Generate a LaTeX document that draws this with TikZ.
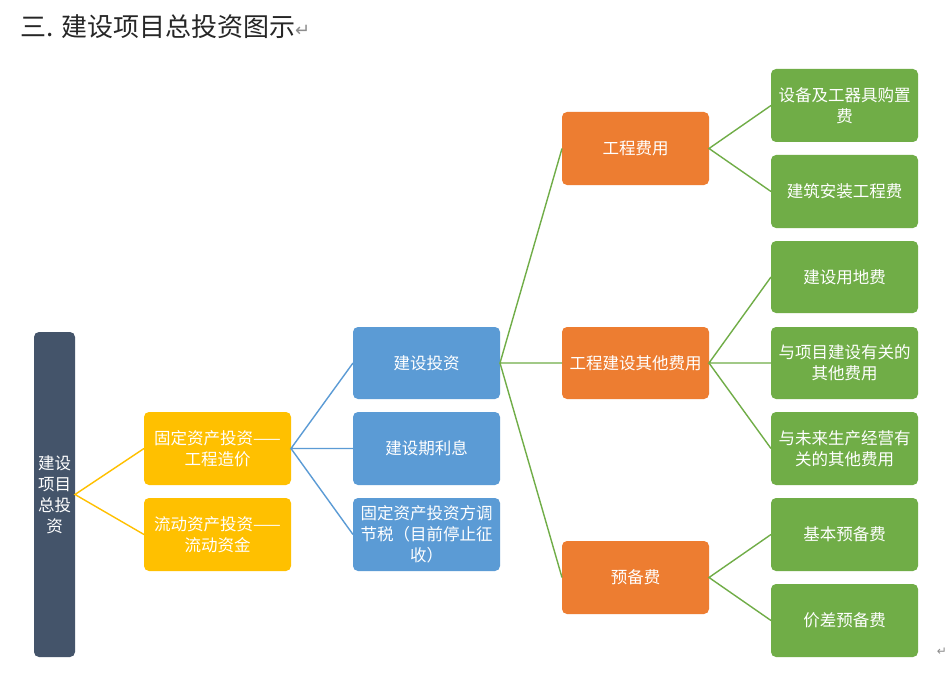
\documentclass[tikz,border=0pt]{standalone}
\usepackage{fontspec}
\setmainfont{Noto Sans CJK SC}
\newfontfamily\symfont{DejaVu Sans}
\definecolor{cRoot}{HTML}{44546A}
\definecolor{cYel}{HTML}{FFC000}
\definecolor{cBlue}{HTML}{5B9BD5}
\definecolor{cOra}{HTML}{ED7D31}
\definecolor{cGre}{HTML}{70AD47}
\definecolor{cMark}{HTML}{8C8C8C}
\begin{document}
\begin{tikzpicture}[x=1pt,y=-1pt,
  boxbase/.style={rounded corners=5pt, text=white, font=\fontsize{16.5}{21}\selectfont, align=center, inner sep=0pt},
  lnk/.style={line width=1.4pt},
]
\useasboundingbox (0,0) rectangle (948,674);
\fill[white] (0,0) rectangle (948,674);
% title
\node[anchor=base west, inner sep=0pt, font=\fontsize{26}{30}\selectfont, text=black!85] (title) at (20,37) {三. 建设项目总投资图示{\symfont\color{cMark}\fontsize{18}{20}\selectfont ↵}};
% boxes
\newcommand{\bx}[7]{% name, color, x1, y1, x2, y2, text
  \fill[#2, rounded corners=5pt] (#3,#4) rectangle (#5,#6);
  \node[boxbase, text width={(#5-#3-8)*1pt}] (#1) at ({(#3+#5)/2},{(#4+#6)/2}) {#7};
  \coordinate (#1-w) at (#3,{(#4+#6)/2});
  \coordinate (#1-e) at (#5,{(#4+#6)/2});
}
\bx{root}{cRoot}{34}{332}{75}{657}{建设\\项目\\总投\\资}
\bx{fix}{cYel}{144}{412}{291}{485}{固定资产投资——\\工程造价}
\bx{liu}{cYel}{144}{498}{291}{571}{流动资产投资——\\流动资金}
\bx{jstz}{cBlue}{353}{327}{500}{399}{建设投资}
\bx{jsq}{cBlue}{353}{412}{500}{485}{建设期利息}
\bx{tax}{cBlue}{353}{498}{500}{571}{固定资产投资方调\\节税（目前停止征\\收）}
\bx{gcfy}{cOra}{562}{112}{709}{185}{工程费用}
\bx{qtfy}{cOra}{562}{327}{709}{399}{工程建设其他费用}
\bx{ybf}{cOra}{562}{541}{709}{614}{预备费}
\bx{g1}{cGre}{771}{69}{918}{142}{设备及工器具购置\\费}
\bx{g2}{cGre}{771}{155}{918}{228}{建筑安装工程费}
\bx{g3}{cGre}{771}{241}{918}{313}{建设用地费}
\bx{g4}{cGre}{771}{327}{918}{399}{与项目建设有关的\\其他费用}
\bx{g5}{cGre}{771}{412}{918}{485}{与未来生产经营有\\关的其他费用}
\bx{g6}{cGre}{771}{498}{918}{571}{基本预备费}
\bx{g7}{cGre}{771}{584}{918}{657}{价差预备费}
% connectors
\draw[lnk, cYel] (fix-w) -- (root-e) -- (liu-w);
\draw[lnk, cBlue] (jstz-w) -- (fix-e) -- (jsq-w);
\draw[lnk, cBlue] (fix-e) -- (tax-w);
\draw[lnk, cGre] (gcfy-w) -- (jstz-e) -- (qtfy-w);
\draw[lnk, cGre] (jstz-e) -- (ybf-w);
\draw[lnk, cGre] (g1-w) -- (gcfy-e) -- (g2-w);
\draw[lnk, cGre] (g3-w) -- (qtfy-e) -- (g4-w);
\draw[lnk, cGre] (qtfy-e) -- (g5-w);
\draw[lnk, cGre] (g6-w) -- (ybf-e) -- (g7-w);
% end mark
\node[inner sep=0pt, font=\symfont\fontsize{12}{14}\selectfont, text=cMark] (endmark) at (942,652) {↵};
\end{tikzpicture}
\end{document}
